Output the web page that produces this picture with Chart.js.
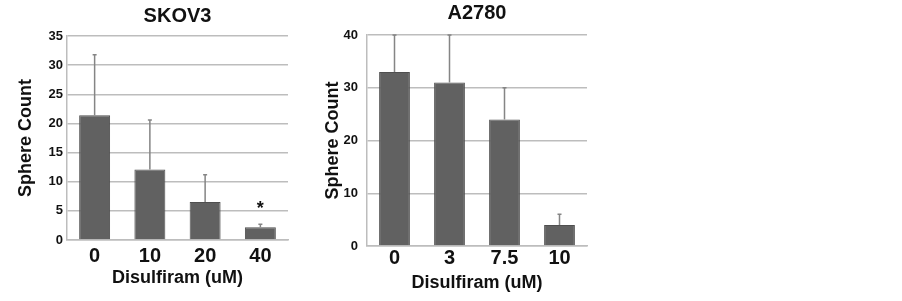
<!DOCTYPE html>
<html>
<head>
<meta charset="utf-8">
<script src="https://cdn.jsdelivr.net/npm/chart.js@4.4.0/dist/chart.umd.min.js"></script>
<style>
  html, body { margin: 0; padding: 0; background: #fff; }
  .box { position: absolute; top: 0; width: 300px; height: 301px; }
</style>
</head>
<body>
<div class="box" style="left:0"><canvas id="skov3"></canvas></div>
<div class="box" style="left:300px"><canvas id="a2780"></canvas></div>
<script>
// SKOV3 panel
const skovDoses = ["0", "10", "20", "40"];
const skovCounts = [21.4, 12.1, 6.5, 2.2];
const skovErrTop = [31.8, 20.6, 11.2, 2.7];
const skovMarks = ["", "", "", "*"];

// A2780 panel
const a2780Doses = ["0", "3", "7.5", "10"];
const a2780Counts = [33, 31, 24, 4];
const a2780ErrTop = [40, 40, 30, 6];
const a2780Marks = ["", "", "", ""];

const FONT = "'Liberation Sans', Arial, sans-serif";
const BAR = "#616161";
const GRID = "#bdbdbd";

// upper error whiskers plus significance marks, drawn on the library scales
const errorBars = {
  id: "errorBars",
  afterDatasetsDraw(chart, args, opts) {
    const { ctx, scales: { x, y } } = chart;
    ctx.save();
    ctx.strokeStyle = "#858585";
    ctx.lineWidth = 1.5;
    opts.top.forEach((v, i) => {
      const px = x.getPixelForValue(i);
      const y0 = y.getPixelForValue(opts.values[i]);
      const y1 = y.getPixelForValue(v);
      ctx.beginPath();
      ctx.moveTo(px, y0);
      ctx.lineTo(px, y1);
      ctx.moveTo(px - 2, y1);
      ctx.lineTo(px + 2, y1);
      ctx.stroke();
      if (opts.marks[i]) {
        ctx.fillStyle = "#111";
        ctx.font = "bold 18px " + FONT;
        ctx.textAlign = "center";
        ctx.textBaseline = "alphabetic";
        ctx.fillText(opts.marks[i], px, y1 - 10);
      }
    });
    ctx.restore();
  },
};

function makeChart(id, labels, values, errTop, marks, cfg) {
  new Chart(document.getElementById(id), {
    type: "bar",
    data: {
      labels,
      datasets: [{
        data: values,
        backgroundColor: BAR,
        borderColor: "#4f4f4f",
        borderWidth: 1,
        categoryPercentage: 1,
        barPercentage: 0.56,
      }],
    },
    plugins: [errorBars],
    options: {
      responsive: true,
      maintainAspectRatio: false,
      animation: false,
      layout: { padding: { left: 0, right: cfg.padRight, top: 0, bottom: 0 } },
      plugins: {
        legend: { display: false },
        tooltip: { enabled: false },
        title: {
          display: true,
          fullSize: false,
          text: cfg.title,
          color: "#111",
          font: { family: FONT, size: 20, weight: "bold" },
          padding: cfg.titlePad,
        },
        errorBars: { values, top: errTop, marks },
      },
      scales: {
        x: {
          grid: { display: false, drawTicks: false },
          border: { color: GRID, width: 1.5 },
          ticks: {
            color: "#111",
            font: { family: FONT, size: 20, weight: "bold" },
            padding: cfg.xTickPad,
            maxRotation: 0,
          },
          title: {
            display: true,
            text: "Disulfiram (uM)",
            color: "#111",
            font: { family: FONT, size: 18, weight: "bold" },
            padding: { top: 0, bottom: cfg.xTitlePad },
          },
          afterFit: (s) => { s.height = cfg.xHeight; },
        },
        y: {
          min: 0,
          max: cfg.max,
          grid: { color: GRID, lineWidth: 1.5, drawTicks: false },
          border: { color: GRID, width: 1.5 },
          ticks: {
            stepSize: cfg.step,
            color: "#111",
            font: { family: FONT, size: 13, weight: "bold" },
            padding: cfg.yTickPad,
          },
          title: {
            display: true,
            text: "Sphere Count",
            color: "#111",
            font: { family: FONT, size: 18, weight: "bold" },
            padding: { top: cfg.yTitlePad, bottom: 0 },
          },
          afterFit: (s) => { s.width = cfg.yWidth; },
        },
      },
    },
  });
}

makeChart("skov3", skovDoses, skovCounts, skovErrTop, skovMarks, {
  title: "SKOV3", max: 35, step: 5,
  titlePad: { top: 4, bottom: 8 },
  padRight: 12, yWidth: 67, yTickPad: 4, yTitlePad: 15,
  xHeight: 61, xTickPad: 4, xTitlePad: 12,
});

makeChart("a2780", a2780Doses, a2780Counts, a2780ErrTop, a2780Marks, {
  title: "A2780", max: 40, step: 10,
  titlePad: { top: 1, bottom: 10 },
  padRight: 13, yWidth: 67, yTickPad: 9, yTitlePad: 22,
  xHeight: 55, xTickPad: 0, xTitlePad: 7,
});
</script>
</body>
</html>
